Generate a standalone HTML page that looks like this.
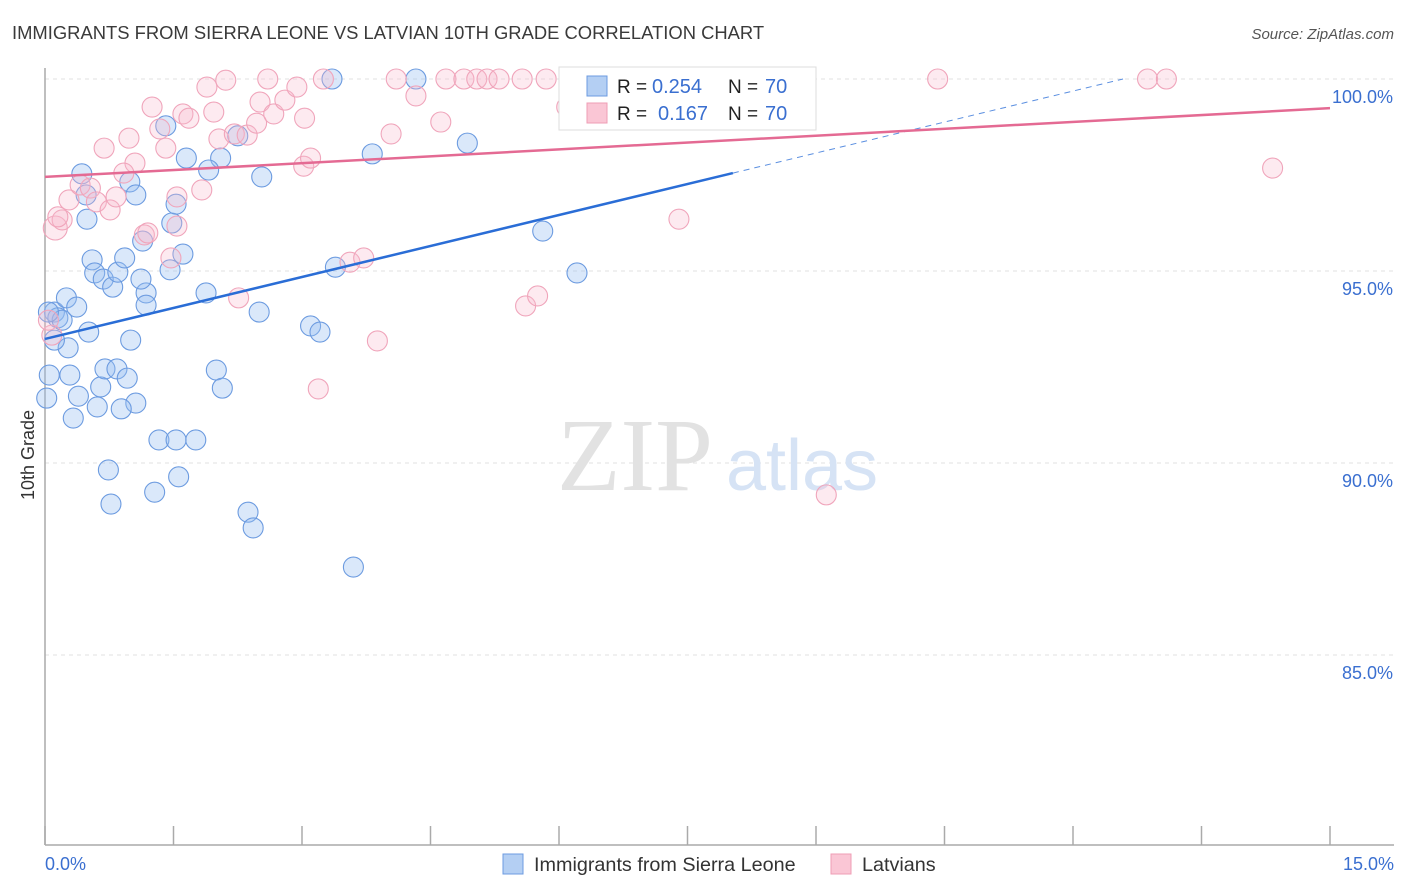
<!DOCTYPE html>
<html><head><meta charset="utf-8"><style>
body{margin:0;background:#fff;font-family:"Liberation Sans",sans-serif;}
svg{display:block}
</style></head><body>
<svg id="chart" width="1406" height="892" xmlns="http://www.w3.org/2000/svg">
<text x="12" y="39" font-size="18.4" fill="#3a3a3a">IMMIGRANTS FROM SIERRA LEONE VS LATVIAN 10TH GRADE CORRELATION CHART</text>
<text x="1394" y="39" font-size="15" fill="#555" font-style="italic" text-anchor="end">Source: ZipAtlas.com</text>
<g id="grid"></g>
<text x="635" y="490" font-size="104" fill="#e2e2e2" font-family="Liberation Serif,serif" text-anchor="middle">ZIP</text>
<text x="802" y="490" font-size="72" fill="#d6e3f5" text-anchor="middle">atlas</text>
<g id="points"></g>
<g id="lines"></g>
<text x="34" y="455" font-size="18" fill="#333" text-anchor="middle" transform="rotate(-90 34 455)">10th Grade</text>
<text x="45" y="870" font-size="18" fill="#3a6fd0">0.0%</text>
<text x="1394" y="870" font-size="18" fill="#3a6fd0" text-anchor="end">15.0%</text>
<g>
<rect x="559" y="67" width="257" height="63" fill="#fff" stroke="#ddd"/>
<rect x="587" y="76" width="20" height="20" fill="#b4cff3" stroke="#6c9be0"/>
<rect x="587" y="103" width="20" height="20" fill="#fac6d5" stroke="#ef9db5"/>
<text x="617" y="93" font-size="19" fill="#222">R =</text>
<text x="652" y="93" font-size="20" fill="#3a6fd0">0.254</text>
<text x="728" y="93" font-size="19" fill="#222">N =</text>
<text x="765" y="93" font-size="20" fill="#3a6fd0">70</text>
<text x="617" y="120" font-size="19" fill="#222">R =</text>
<text x="658" y="120" font-size="20" fill="#3a6fd0">0.167</text>
<text x="728" y="120" font-size="19" fill="#222">N =</text>
<text x="765" y="120" font-size="20" fill="#3a6fd0">70</text>
</g>
<g>
<rect x="503" y="854" width="20" height="20" fill="#b4cff3" stroke="#6c9be0"/>
<text x="534" y="871" font-size="19.8" fill="#333">Immigrants from Sierra Leone</text>
<rect x="831" y="854" width="20" height="20" fill="#fac6d5" stroke="#ef9db5"/>
<text x="862" y="871" font-size="19.8" fill="#333">Latvians</text>
</g>
</svg>
<script>
const yTicks=[100,95,90,85];
const xTickCount=10;
const blueX=[0.43,0.48,0.49,0.11,0.15,0.20,0.25,0.37,0.51,0.27,0.05,0.29,0.02,0.39,0.33,0.61,0.65,0.70,0.84,0.96,1.06,0.89,0.55,0.58,0.68,0.79,0.85,0.93,1.00,1.14,1.18,1.18,1.12,0.99,1.06,1.46,1.61,1.48,1.53,1.41,1.65,2.05,1.91,2.25,2.53,1.88,2.50,2.00,2.07,1.33,1.53,1.76,0.74,1.56,1.28,0.77,2.37,2.43,3.60,3.10,3.21,3.39,3.35,4.33,3.82,4.93,5.81,6.21,0.11,0.04];
const blueY=[97.53,96.98,96.35,93.93,93.78,93.72,94.30,94.06,93.41,93.00,92.29,92.29,91.69,91.74,91.17,91.46,91.98,92.45,92.45,92.21,91.56,91.41,95.29,94.95,94.79,94.58,94.97,95.34,93.20,95.78,94.43,94.11,94.79,97.32,96.98,95.03,95.44,96.25,96.74,98.78,97.94,97.94,97.63,98.52,97.45,94.43,93.93,92.42,91.95,90.60,90.60,90.60,89.82,89.64,89.24,88.93,88.72,88.31,87.29,93.57,93.41,95.10,100,100,98.05,98.33,96.04,94.95,93.20,93.93];
const pinkX=[0.12,0.20,0.28,0.41,0.53,0.60,0.76,0.83,0.69,0.98,1.05,0.92,1.25,1.34,1.41,1.61,1.68,1.54,1.54,1.83,1.89,1.97,2.03,2.11,2.21,2.36,2.47,2.51,2.60,2.67,2.80,2.94,3.02,3.10,3.03,3.25,2.26,3.19,3.56,3.72,3.88,4.04,4.10,4.33,4.62,4.68,4.89,5.04,5.16,5.30,5.57,5.85,6.09,5.61,5.75,7.40,7.95,9.12,10.42,12.87,13.09,14.33,1.16,1.20,0.08,0.04,0.15,1.47];
const pinkY=[96.12,96.33,96.85,97.24,97.16,96.80,96.59,96.93,98.20,98.46,97.81,97.55,99.27,98.70,98.20,99.09,98.98,96.93,96.17,97.11,99.79,99.14,98.44,99.97,98.57,98.54,98.85,99.40,100,99.09,99.45,99.79,97.73,97.94,98.98,100,94.30,91.93,95.23,95.34,93.18,98.57,100,99.56,98.88,100,100,100,100,100,100,100,99.27,94.09,94.35,96.35,100,89.17,100,100,100,97.68,95.94,95.99,93.33,93.72,96.41,95.34];
const blueTrend=[93.23,97.55,8.03,100];
const pinkTrend=[97.45,99.24];
const X0=45,X1=1330,Y100=79,PX5=192;
const xs=v=>X0+(X1-X0)*v/15;
const ys=v=>Y100+(100-v)*PX5/5;
const NS="http://www.w3.org/2000/svg";
function mk(tag,attrs,parent){const e=document.createElementNS(NS,tag);for(const k in attrs)e.setAttribute(k,attrs[k]);parent.appendChild(e);return e;}
const grid=document.getElementById('grid');
yTicks.forEach(t=>{
 const l=mk('line',{x1:45,x2:1394,y1:ys(t),y2:ys(t),stroke:'#e2e2e2','stroke-dasharray':'4,4'},grid);
 
 
 const tx=mk('text',{x:1393,y:ys(t)+24,'font-size':18,fill:'#3a6fd0','text-anchor':'end'},grid);
 tx.textContent=t.toFixed(1)+'%';
 
 
});
const ax=mk('line',{x1:45,x2:45,y1:68,y2:845,stroke:'#aaa','stroke-width':1.5},grid);


const bx=mk('line',{x1:45,x2:1394,y1:845,y2:845,stroke:'#aaa','stroke-width':1.5},grid);


for(let i=0;i<=xTickCount;i++){
 const v=15*i/xTickCount;
 const t=mk('line',{x1:xs(v),x2:xs(v),y1:826,y2:845,stroke:'#aaa','stroke-width':1.5},grid);
 
 
}
const pts=document.getElementById('points');
blueX.forEach((x,i)=>{
 const c=mk('circle',{cx:xs(x),cy:ys(blueY[i]),r:10,fill:'rgba(150,188,240,0.35)',stroke:'#6c9be0','stroke-width':1.1},pts);
 
 
});
pinkX.forEach((x,i)=>{
 const c=mk('circle',{cx:xs(x),cy:ys(pinkY[i]),r:i==0?12:10,fill:'rgba(248,186,204,0.3)',stroke:'#f0a5bb','stroke-width':1.1},pts);
 
 
});
const lines=document.getElementById('lines');
const slope=(blueTrend[1]-blueTrend[0])/blueTrend[2];
const bl=mk('line',{x1:xs(0),y1:ys(blueTrend[0]),x2:xs(blueTrend[2]),y2:ys(blueTrend[1]),stroke:'#2a6dd6','stroke-width':2.5},lines);


const xEnd=Math.min((blueTrend[3]-blueTrend[0])/slope,12.7);
const bd=mk('line',{x1:xs(blueTrend[2]),y1:ys(blueTrend[1]),x2:xs(xEnd),y2:ys(blueTrend[0]+slope*xEnd),stroke:'#5b8fe0','stroke-width':1,'stroke-dasharray':'6,5'},lines);


const pl=mk('line',{x1:xs(0),y1:ys(pinkTrend[0]),x2:xs(15),y2:ys(pinkTrend[1]),stroke:'#e46a93','stroke-width':2.5},lines);


</script>
</body></html>
